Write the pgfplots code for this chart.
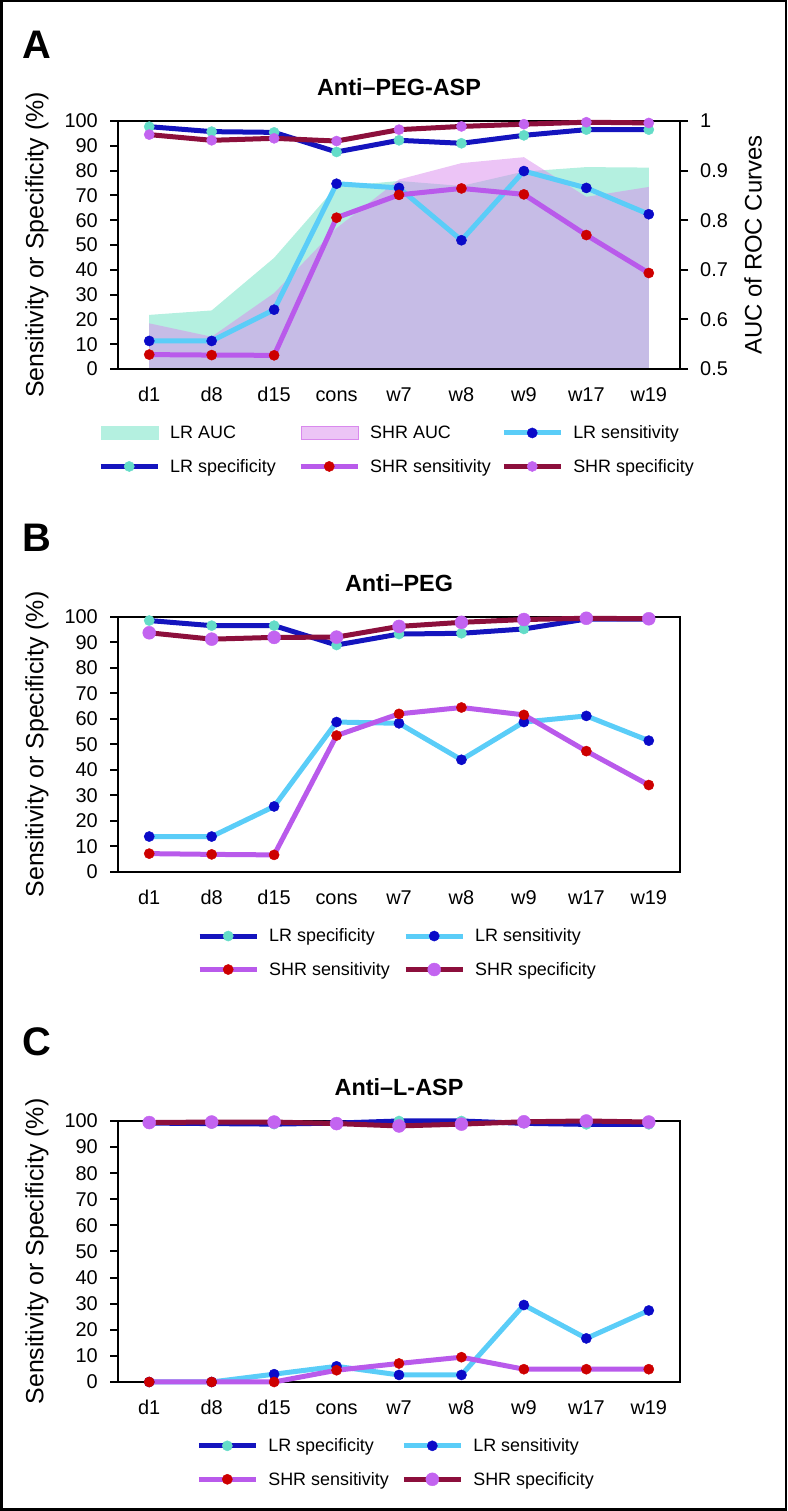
\documentclass[border=0pt]{standalone}
\usepackage{fontspec}
\setmainfont{Liberation Sans}
\usepackage{pgfplots}
\usepackage{pgfplotstable}
\pgfplotsset{compat=1.18}

\definecolor{lrspec}{RGB}{20,20,190}
\definecolor{lrspecm}{RGB}{100,220,200}
\definecolor{lrsens}{RGB}{90,205,248}
\definecolor{lrsensm}{RGB}{10,10,200}
\definecolor{shrsens}{RGB}{185,90,235}
\definecolor{shrsensm}{RGB}{205,0,0}
\definecolor{shrspec}{RGB}{140,15,60}
\definecolor{shrspecm}{RGB}{195,100,240}
\definecolor{lrauc}{RGB}{180,240,224}
\definecolor{shrauc}{RGB}{217,137,237}

% x: 0=d1 ... 8=w19
\pgfplotstableread{
x lrsens lrspec shrsens shrspec lrauc shrauc
0 11.3 97.7  5.8 94.5 0.609 0.592
1 11.3 95.7  5.6 92.2 0.618 0.565
2 23.9 95.4  5.5 93.0 0.724 0.653
3 74.7 87.5 61.0 91.9 0.868 0.784
4 73.0 92.2 70.2 96.5 0.879 0.882
5 51.9 91.0 72.8 97.8 0.869 0.915
6 79.8 94.2 70.4 98.7 0.898 0.927
7 73.0 96.5 54.0 99.5 0.907 0.847
8 62.4 96.5 38.7 99.2 0.906 0.867
}\tabA

\pgfplotstableread{
x lrsens lrspec shrsens shrspec
0 13.9 98.6  7.2 93.8
1 13.9 96.6  6.9 91.3
2 25.7 96.6  6.7 92.0
3 58.8 89.0 53.5 92.1
4 58.3 93.3 62.0 96.3
5 44.0 93.6 64.5 97.9
6 58.8 95.3 61.6 99.0
7 61.2 99.2 47.4 99.5
8 51.5 99.2 34.1 99.3
}\tabB

\pgfplotstableread{
x lrsens lrspec shrsens shrspec
0  0.0  99.2 0.0 99.4
1  0.0  99.0 0.0 99.6
2  3.0  98.8 0.0 99.6
3  6.0  99.2 4.5 99.0
4  2.7 100.0 7.1 98.1
5  2.7 100.0 9.5 98.8
6 29.5  99.1 4.9 99.7
7 16.7  98.7 4.9 100.0
8 27.4  98.7 4.9 99.6
}\tabC

\pgfplotsset{
  base/.style={
    scale only axis, width=562bp,
    xmin=-0.5, xmax=8.5,
    tick align=outside, major tick length=8bp,
    x tick style={draw=none},
    y tick style={line width=2bp, black},
    axis line style={line width=2.7bp},
    tick label style={font=\fontsize{20}{24}\selectfont},
    /pgf/number format/assume math mode=true,
  },
  panel/.style={
    base,
    ymin=0, ymax=100,
    xtick={0,...,8}, xticklabels={d1,d8,d15,cons,w7,w8,w9,w17,w19},
    ytick={0,10,...,100}, ytick pos=left,
    xticklabel style={inner sep=0pt, text height=14bp, text depth=4bp, yshift=-10bp},
    yticklabel style={inner sep=0pt, xshift=-12bp},
    ylabel={Sensitivity or Specificity (\%)},
    ylabel style={font=\fontsize{25}{30}\selectfont, at={(axis description cs:-0.1441,0.5)}, anchor=center},
    title style={font=\bfseries\fontsize{23.5}{28}\selectfont, at={(axis description cs:0.5,1)}, anchor=center, yshift=28bp},
    clip=false,
    legend cell align=left,
    legend style={draw=none, fill=none, inner sep=0pt, anchor=north west,
      font=\fontsize{18}{21}\selectfont, nodes={inner sep=0pt},
      row sep=19bp, /tikz/every odd column/.append style={column sep=10bp}},
    legend image code/.code={\draw[mark repeat=2, mark phase=2, ##1]
      plot coordinates {(0bp,0bp) (28.5bp,0bp) (57bp,0bp)};},
  },
  ser/.style n args={3}{color=#1, line width=5bp, mark=*, mark size=#3,
    mark options={solid, fill=#2, draw=#2, line width=0.4bp}},
}

\begin{document}
\begin{tikzpicture}[x=1bp,y=1bp]
\useasboundingbox (0,0) rectangle (787,1511);
\draw[line width=2.5bp] (1.25,1.25) rectangle (785.75,1509.75);

\node[font=\bfseries\fontsize{40}{40}\selectfont] at (37,1466) {A};
\node[font=\bfseries\fontsize{40}{40}\selectfont] at (37,973) {B};
\node[font=\bfseries\fontsize{40}{40}\selectfont] at (37,469) {C};

% ---- A: AUC areas on the right axis
\begin{axis}[base, height=248bp, at={(118bp,1142bp)}, anchor=south west,
  ymin=0.5, ymax=1, axis y line*=right, axis x line=none,
  ytick={0.5,0.6,0.7,0.8,0.9,1}, yticklabels={0.5,0.6,0.7,0.8,0.9,1},
  yticklabel style={inner sep=0pt, xshift=12bp},
  ylabel={AUC of ROC Curves},
  ylabel style={font=\fontsize{24}{28}\selectfont, at={(axis description cs:1.1299,0.5)}, anchor=center}]
\addplot[fill=lrauc, draw=none] table[x=x, y=lrauc] {\tabA} -- (8,0.5) -- (0,0.5) -- cycle;
\addplot[fill=shrauc, fill opacity=0.5, draw=none] table[x=x, y=shrauc] {\tabA} -- (8,0.5) -- (0,0.5) -- cycle;
\end{axis}

% ---- A: lines
\begin{axis}[panel, height=248bp, at={(118bp,1142bp)}, anchor=south west,
  title={Anti–PEG-ASP}, legend columns=3,
  legend style={at={(-0.0355,-0.228)}}]
\addlegendimage{legend image code/.code={\fill[lrauc] (0bp,-6.5bp) rectangle (57bp,6.5bp);}}
\addlegendentry{\makebox[128bp][l]{LR AUC}}
\addlegendimage{legend image code/.code={\fill[shrauc, fill opacity=0.5] (0bp,-6.5bp) rectangle (57bp,6.5bp);}}
\addlegendentry{\makebox[131bp][l]{SHR AUC}}
\addplot[ser={lrsens}{lrsensm}{5.1bp}] table[x=x, y=lrsens] {\tabA};
\addlegendentry{LR sensitivity}
\addplot[ser={lrspec}{lrspecm}{5.1bp}] table[x=x, y=lrspec] {\tabA};
\addlegendentry{\makebox[128bp][l]{LR specificity}}
\addplot[ser={shrsens}{shrsensm}{5.1bp}] table[x=x, y=shrsens] {\tabA};
\addlegendentry{\makebox[131bp][l]{SHR sensitivity}}
\addplot[ser={shrspec}{shrspecm}{5.1bp}] table[x=x, y=shrspec] {\tabA};
\addlegendentry{SHR specificity}
\end{axis}

% ---- B
\begin{axis}[panel, height=255bp, at={(118bp,639bp)}, anchor=south west,
  title={Anti–PEG}, legend columns=2,
  legend style={at={(0.1406,-0.222)}}]
\addplot[ser={lrspec}{lrspecm}{5.1bp}] table[x=x, y=lrspec] {\tabB};
\addlegendentry{\makebox[134bp][l]{LR specificity}}
\addplot[ser={lrsens}{lrsensm}{5.1bp}] table[x=x, y=lrsens] {\tabB};
\addlegendentry{LR sensitivity}
\addplot[ser={shrsens}{shrsensm}{5.1bp}] table[x=x, y=shrsens] {\tabB};
\addlegendentry{\makebox[134bp][l]{SHR sensitivity}}
\addplot[ser={shrspec}{shrspecm}{6.5bp}] table[x=x, y=shrspec] {\tabB};
\addlegendentry{SHR specificity}
\end{axis}

% ---- C
\begin{axis}[panel, height=261bp, at={(118bp,129bp)}, anchor=south west,
  title={Anti–L-ASP}, legend columns=2,
  legend style={at={(0.139,-0.216)}}]
\addplot[ser={lrspec}{lrspecm}{5.1bp}] table[x=x, y=lrspec] {\tabC};
\addlegendentry{\makebox[133bp][l]{LR specificity}}
\addplot[ser={lrsens}{lrsensm}{5.1bp}] table[x=x, y=lrsens] {\tabC};
\addlegendentry{LR sensitivity}
\addplot[ser={shrsens}{shrsensm}{5.1bp}] table[x=x, y=shrsens] {\tabC};
\addlegendentry{\makebox[133bp][l]{SHR sensitivity}}
\addplot[ser={shrspec}{shrspecm}{6.5bp}] table[x=x, y=shrspec] {\tabC};
\addlegendentry{SHR specificity}
\end{axis}
\end{tikzpicture}
\end{document}
